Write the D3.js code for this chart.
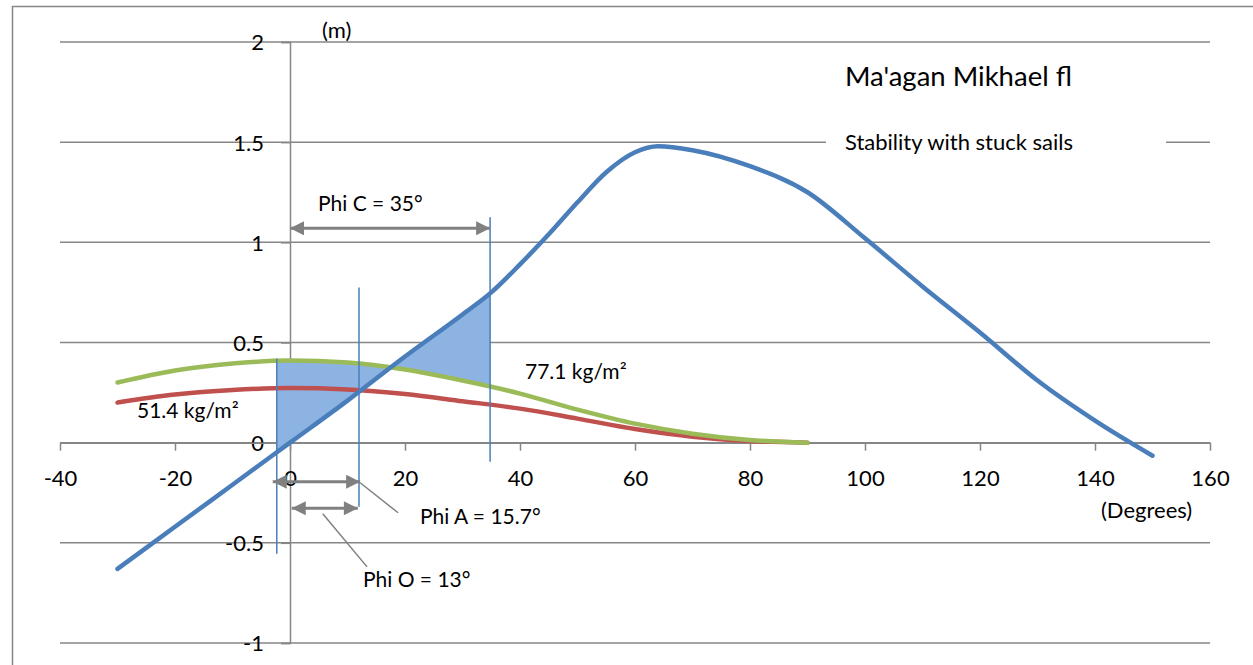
<!DOCTYPE html>
<html>
<head>
<meta charset="utf-8">
<script src="https://cdn.jsdelivr.net/npm/d3@7"></script>
<style>
body { margin: 0; background: #fff; }
text { font-family: Lato, "Open Sans", sans-serif; fill: #000; }
</style>
</head>
<body>
<div id="root"></div>
<script>
var width = 1253;
var height = 665;

// heel angle (degrees) and righting arm (m)
var blueDeg = [-30, -20, -10, 0, 10, 20, 30, 35, 40, 45, 50, 55, 60, 64, 70, 80, 90, 100, 110, 120, 130, 140, 150];
var blueArm = [-0.63, -0.42, -0.21, 0, 0.21, 0.43, 0.64, 0.75, 0.89, 1.04, 1.2, 1.35, 1.45, 1.48, 1.46, 1.38, 1.25, 1.02, 0.78, 0.55, 0.31, 0.11, -0.065];

// wind heeling arms
var windDeg = [-30, -20, -10, 0, 10, 20, 30, 40, 50, 60, 70, 80, 90];
var green771 = [0.30, 0.36, 0.395, 0.41, 0.40, 0.365, 0.31, 0.245, 0.165, 0.095, 0.045, 0.013, 0.0];
var red514 = [0.20, 0.24, 0.263, 0.273, 0.266, 0.243, 0.207, 0.17, 0.12, 0.068, 0.03, 0.008, 0.0];

// ticks
var xTicks = [-40, -20, 0, 20, 40, 60, 80, 100, 120, 140, 160];
var yTicks = [-1, -0.5, 0, 0.5, 1, 1.5, 2];

// vertical marker lines: angle, top, bottom
var markerDeg = [-2.3, 12, 34.8];
var markerTop = [0.42, 0.775, 1.125];
var markerBottom = [-0.555, -0.32, -0.095];

// shaded strip between the two curves
var shadeFrom = -2.3;
var shadeTo = 34.8;

// double arrows: from, to, level
var arrowFrom = [0, -3, 0.3];
var arrowTo = [34.8, 12.2, 11.8];
var arrowLevel = [1.07, -0.195, -0.3275];

var svg =
d3.select("#root")
.append("svg")
.attr("width", width)
.attr("height", height);

var x = d3.scaleLinear()
.domain([-40, 160])
.range([60, 1210]);

var y = d3.scaleLinear()
.domain([-1, 2])
.range([643, 42]);

var grey = "#868686";

/* outer frame of the chart area, runs off the picture right and bottom */
svg.append("rect")
.attr("x", 12.5)
.attr("y", 6.5)
.attr("width", 1400)
.attr("height", 800)
.attr("fill", "none")
.attr("stroke", grey)
.attr("stroke-width", 1.5);

/* horizontal gridlines */
svg.append("g")
.selectAll("line")
.data(yTicks)
.enter()
.append("line")
.attr("x1", x(-40))
.attr("x2", x(160))
.attr("y1", function(d){ return y(d); })
.attr("y2", function(d){ return y(d); })
.attr("stroke", grey)
.attr("stroke-width", 1.5);

/* y axis through zero degrees, ticks pointing left, hyphen minus like the original */
var yAxis = d3.axisLeft(y)
.tickValues(yTicks)
.tickSize(9)
.tickFormat(function(d){ return String(d); });

var yAxisG = svg.append("g")
.attr("transform", "translate(" + x(0) + ",0)")
.call(yAxis);

yAxisG.select(".domain").attr("stroke", grey).attr("stroke-width", 1.5);
yAxisG.selectAll(".tick line").attr("stroke", grey).attr("stroke-width", 1.5);
yAxisG.selectAll(".tick text")
.attr("x", -26)
.attr("dy", "0.36em")
.style("font-size", "22px")
.style("font-family", "Lato, sans-serif")
.attr("fill", "#000");

/* x axis along zero */
var xAxis = d3.axisBottom(x)
.tickValues(xTicks)
.tickSize(8)
.tickSizeOuter(0)
.tickFormat(function(d){ return String(d); });

var xAxisG = svg.append("g")
.attr("transform", "translate(0," + y(0) + ")")
.call(xAxis);

xAxisG.select(".domain").attr("stroke", grey).attr("stroke-width", 1.5);
xAxisG.selectAll(".tick line").attr("stroke", grey).attr("stroke-width", 1.5);
xAxisG.selectAll(".tick text")
.attr("y", 35)
.attr("dy", "0.36em")
.style("font-size", "22px")
.style("font-family", "Lato, sans-serif")
.attr("fill", "#000");

/* white box behind the subtitle breaks the 1.5 gridline */
svg.append("rect")
.attr("x", 826)
.attr("y", 130)
.attr("width", 340)
.attr("height", 24)
.attr("fill", "#fff");

svg.append("text")
.attr("x", 845)
.attr("y", 86)
.style("font-size", "27.5px")
.text("Ma'agan Mikhael fl");

svg.append("text")
.attr("x", 845)
.attr("y", 150)
.style("font-size", "22px")
.text("Stability with stuck sails");

svg.append("text")
.attr("x", 322)
.attr("y", 38)
.style("font-size", "22px")
.text("(m)");

svg.append("text")
.attr("x", 1101)
.attr("y", 518)
.style("font-size", "22px")
.text("(Degrees)");

var blueData = blueDeg.map(function(d, i){ return [d, blueArm[i]]; });
var greenData = windDeg.map(function(d, i){ return [d, green771[i]]; });
var redData = windDeg.map(function(d, i){ return [d, red514[i]]; });

var line = d3.line()
.x(function(d){ return x(d[0]); })
.y(function(d){ return y(d[1]); })
.curve(d3.curveMonotoneX);

/* shaded area between green and blue curves, clipped to the strip */
svg.append("clipPath")
.attr("id", "strip")
.append("rect")
.attr("x", x(shadeFrom))
.attr("y", 0)
.attr("width", x(shadeTo) - x(shadeFrom))
.attr("height", height);

var shadePath = line(greenData) + "L" + line(blueData.slice().reverse()).slice(1) + "Z";

svg.append("path")
.attr("d", shadePath)
.attr("fill", "#8db3e2")
.attr("fill-rule", "evenodd")
.attr("clip-path", "url(#strip)");

/* curves */
svg.append("path")
.datum(redData)
.attr("d", line)
.attr("fill", "none")
.attr("stroke", "#c0504d")
.attr("stroke-width", 4.5)
.attr("stroke-linecap", "round");

svg.append("path")
.datum(greenData)
.attr("d", line)
.attr("fill", "none")
.attr("stroke", "#9bbb59")
.attr("stroke-width", 4.5)
.attr("stroke-linecap", "round");

svg.append("path")
.datum(blueData)
.attr("d", line)
.attr("fill", "none")
.attr("stroke", "#4a7ebb")
.attr("stroke-width", 4.5)
.attr("stroke-linecap", "round");

/* thin vertical marker lines */
svg.append("g")
.selectAll("line")
.data(markerDeg)
.enter()
.append("line")
.attr("x1", function(d){ return x(d); })
.attr("x2", function(d){ return x(d); })
.attr("y1", function(d, i){ return y(markerTop[i]); })
.attr("y2", function(d, i){ return y(markerBottom[i]); })
.attr("stroke", "#4a7ebb")
.attr("stroke-width", 1.5);

/* grey double arrows */
var defs = svg.append("defs");
defs.append("marker")
.attr("id", "head")
.attr("viewBox", "0 0 10 10")
.attr("refX", 10)
.attr("refY", 5)
.attr("markerWidth", 16)
.attr("markerHeight", 14)
.attr("markerUnits", "userSpaceOnUse")
.attr("orient", "auto-start-reverse")
.append("path")
.attr("d", "M0,0L10,5L0,10Z")
.attr("fill", "#808080");

svg.append("g")
.selectAll("line")
.data(arrowFrom)
.enter()
.append("line")
.attr("x1", function(d){ return x(d); })
.attr("x2", function(d, i){ return x(arrowTo[i]); })
.attr("y1", function(d, i){ return y(arrowLevel[i]); })
.attr("y2", function(d, i){ return y(arrowLevel[i]); })
.attr("stroke", "#808080")
.attr("stroke-width", 3)
.attr("marker-start", "url(#head)")
.attr("marker-end", "url(#head)");

/* leader lines to the labels */
var leaders = [
	[[12.2, -0.2], [18.8, -0.35]],
	[[5.7, -0.355], [13.4, -0.62]]
];
svg.append("g")
.selectAll("line")
.data(leaders)
.enter()
.append("line")
.attr("x1", function(d){ return x(d[0][0]); })
.attr("y1", function(d){ return y(d[0][1]); })
.attr("x2", function(d){ return x(d[1][0]); })
.attr("y2", function(d){ return y(d[1][1]); })
.attr("stroke", "#808080")
.attr("stroke-width", 1.5);

/* labels */
var labels = [
	["Phi C = 35°", 318, 211],
	["Phi A = 15.7°", 420, 524],
	["Phi O = 13°", 363, 587],
	["51.4 kg/m²", 137, 418],
	["77.1 kg/m²", 525, 379]
];
svg.append("g")
.selectAll("text")
.data(labels)
.enter()
.append("text")
.attr("x", function(d){ return d[1]; })
.attr("y", function(d){ return d[2]; })
.style("font-size", "21px")
.text(function(d){ return d[0]; });
</script>
</body>
</html>
